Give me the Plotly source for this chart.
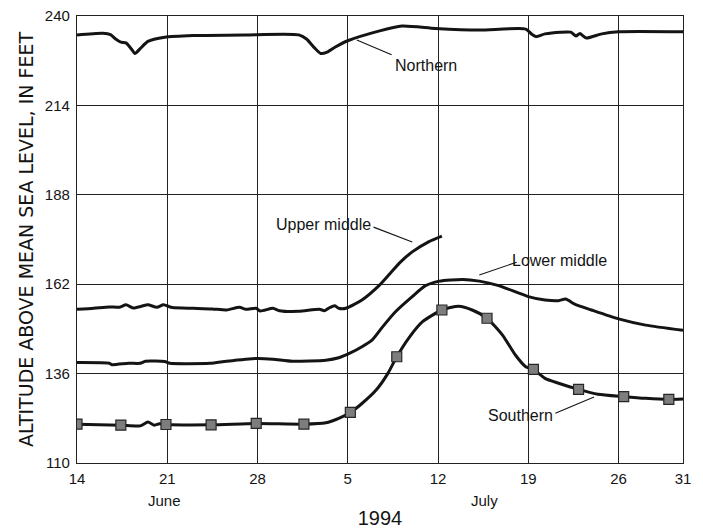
import pandas as pd
import plotly.graph_objects as go

# ---------------- data (days after 14 June 1994, altitude in feet) ----------------
START = "1994-06-14"

northern_days = [0, 2.0, 2.6, 3.0, 3.4, 3.8, 4.2, 4.5, 4.9, 5.5, 6.8, 9.0, 13.0, 17.2, 17.8,
                 18.4, 18.9, 19.4, 20.0, 21.0, 23.4, 25.2, 27.8, 31.2, 34.8, 35.3, 35.6,
                 36.3, 37.5, 38.3, 38.7, 39.0, 39.5, 40.7, 42.0, 47.0]
northern_vals = [234.5, 235.0, 234.6, 233.3, 232.4, 232.2, 230.5, 229.1, 230.5, 232.6, 233.8,
                 234.3, 234.5, 234.5, 233.3, 230.8, 229.1, 229.5, 230.9, 232.8, 235.6, 237.1,
                 236.4, 235.9, 236.2, 234.6, 234.0, 234.8, 235.3, 235.3, 234.2, 234.9, 233.6,
                 234.8, 235.4, 235.4]

upper_days = [0, 1.3, 2.5, 3.3, 3.8, 4.35, 5.0, 5.5, 6.2, 6.7, 7.4, 9.0, 10.5, 11.6, 12.6,
              13.1, 13.9, 14.2, 15.2, 15.7, 17.2, 18.8, 19.2, 19.6, 20.0, 20.3, 20.86, 22.1,
              23.4, 24.3, 25.1, 26.0, 27.3, 28.3]
upper_vals = [154.7, 155.0, 155.4, 155.3, 156.0, 155.1, 155.6, 156.0, 155.3, 156.0, 155.2,
              155.0, 154.8, 154.5, 155.3, 154.7, 155.0, 154.2, 155.0, 154.3, 154.1, 154.7,
              154.3, 155.2, 155.7, 155.0, 155.0, 157.4, 161.5, 165.2, 168.5, 171.4, 174.4,
              176.0]

lower_days = [0, 2.5, 2.7, 4.0, 4.9, 5.3, 6.8, 7.2, 10.3, 11.6, 13.9, 15.2, 16.7, 19.3,
              20.3, 21.2, 22.1, 22.9, 23.7, 24.7, 26.0, 27.0, 28.1, 29.9, 31.2, 32.7, 35.0,
              36.3, 37.35, 37.9, 38.6, 39.9, 42.0, 44.1, 47.0]
lower_vals = [139.2, 139.0, 138.6, 139.0, 139.0, 139.6, 139.5, 139.0, 139.0, 139.6, 140.4,
              140.2, 139.6, 139.9, 140.6, 142.0, 143.8, 145.8, 149.6, 154.0, 158.4, 161.5,
              162.9, 163.4, 162.9, 161.6, 158.4, 157.4, 157.2, 157.7, 156.2, 154.5, 151.9,
              150.1, 148.6]

southern_days = [0, 3.4, 4.9, 5.5, 6.0, 6.4, 6.9, 10.4, 13.9, 17.6, 19.3, 20.3, 21.2,
                 22.1, 23.2, 24.1, 24.8, 25.8, 26.8, 28.3, 29.6, 30.65, 31.8, 33.0, 34.0,
                 34.8, 35.4, 36.3, 37.35, 38.9, 40.4, 42.4, 44.1, 45.9, 47.0]
southern_vals = [121.3, 121.0, 120.8, 121.9, 121.0, 121.4, 121.2, 121.1, 121.5, 121.3, 121.7,
                 123.0, 124.7, 127.3, 131.2, 136.0, 140.9, 146.7, 151.1, 154.5, 155.6,
                 154.5, 152.1, 147.2, 141.4, 138.0, 137.2, 134.6, 133.2, 131.4, 130.0, 129.3,
                 128.8, 128.5, 128.6]

sample_days = [0, 3.4, 6.9, 10.4, 13.9, 17.6, 21.2, 24.8, 28.3, 31.8, 35.4, 38.9, 42.4, 45.9]
sample_vals = [121.3, 121.0, 121.2, 121.1, 121.5, 121.3, 124.7, 140.9, 154.5, 152.1, 137.2,
               131.4, 129.3, 128.5]

tick_dates = ["1994-06-14", "1994-06-21", "1994-06-28", "1994-07-05", "1994-07-12",
              "1994-07-19", "1994-07-26", "1994-07-31"]
tick_text = ["14", "21", "28", "5", "12", "19", "26", "31"]
y_ticks = [110, 136, 162, 188, 214, 240]

# labels: (text, day, value) and leader lines (day0, value0, day1, value1)
labels = [("Northern", 27.1, 225.7), ("Upper middle", 19.1, 179.5),
          ("Lower middle", 37.4, 169.0), ("Southern", 34.4, 123.7)]
leaders = [(21.7, 233.0, 24.4, 228.7), (23.0, 178.6, 26.0, 174.3),
           (31.2, 164.7, 34.1, 168.4), (37.1, 124.5, 40.1, 129.2)]
months = [("June", 6.8), ("July", 31.6)]


def to_dates(days):
    base = pd.Timestamp(START)
    return [base + pd.Timedelta(days=float(d)) for d in days]


INK = "#141414"
FONT = "Liberation Sans, Arial, sans-serif"

fig = go.Figure()
line = dict(color=INK, width=3, shape="spline", smoothing=0.6)
for days, vals, name in [(northern_days, northern_vals, "Northern"),
                         (upper_days, upper_vals, "Upper middle"),
                         (lower_days, lower_vals, "Lower middle"),
                         (southern_days, southern_vals, "Southern")]:
    fig.add_trace(go.Scatter(x=to_dates(days), y=vals, mode="lines", line=line,
                             name=name, showlegend=False, hoverinfo="skip"))

fig.add_trace(go.Scatter(x=to_dates(sample_days), y=sample_vals, mode="markers",
                         marker=dict(symbol="square", size=10, color="#7d7d7d",
                                     line=dict(color="#262626", width=1.2)),
                         showlegend=False, hoverinfo="skip"))

annotations = []
for text, d, v in labels:
    annotations.append(dict(x=to_dates([d])[0], y=v, text=text, showarrow=False,
                            font=dict(family=FONT, size=16, color=INK),
                            xref="x", yref="y"))
for text, d in months:
    annotations.append(dict(x=to_dates([d])[0], y=0, xref="x", yref="paper", text=text,
                            showarrow=False, yshift=-37, yanchor="middle",
                            font=dict(family=FONT, size=15, color=INK)))

shapes = []
for d0, v0, d1, v1 in leaders:
    x0, x1 = to_dates([d0, d1])
    shapes.append(dict(type="line", xref="x", yref="y", x0=x0, y0=v0, x1=x1, y1=v1,
                       line=dict(color=INK, width=1.1)))

# the page adds an 8px body margin, so the figure is sized to fit the 703x529 window
fig.update_layout(
    width=695, height=521,
    margin=dict(l=69, r=20, t=8, b=66),
    paper_bgcolor="white", plot_bgcolor="white",
    font=dict(family=FONT, size=14, color=INK),
    annotations=annotations, shapes=shapes,
    showlegend=False,
)
fig.update_xaxes(
    type="date", range=[tick_dates[0], tick_dates[-1]], automargin=False,
    tickmode="array", tickvals=tick_dates, ticktext=tick_text,
    showgrid=True, gridcolor="#222", gridwidth=1,
    showline=True, linecolor="#222", linewidth=1.2, mirror=True,
    ticks="", tickfont=dict(size=15, family=FONT, color=INK), ticklabelstandoff=2,
    ticklabeloverflow="allow",
    title=dict(text="1994", font=dict(size=20, family=FONT, color=INK), standoff=26),
    zeroline=False,
)
fig.update_yaxes(
    range=[110, 240], tickmode="array", tickvals=y_ticks, automargin=False,
    showgrid=True, gridcolor="#222", gridwidth=1,
    showline=True, linecolor="#222", linewidth=1.2, mirror=True,
    ticks="", tickfont=dict(size=15, family=FONT, color=INK), ticklabelstandoff=3,
    ticklabeloverflow="allow",
    title=dict(text="ALTITUDE ABOVE MEAN SEA LEVEL, IN FEET",
               font=dict(size=19, family="DejaVu Sans, Verdana, sans-serif", color=INK),
               standoff=6),
    zeroline=False,
)

fig.write_html("out.html")
